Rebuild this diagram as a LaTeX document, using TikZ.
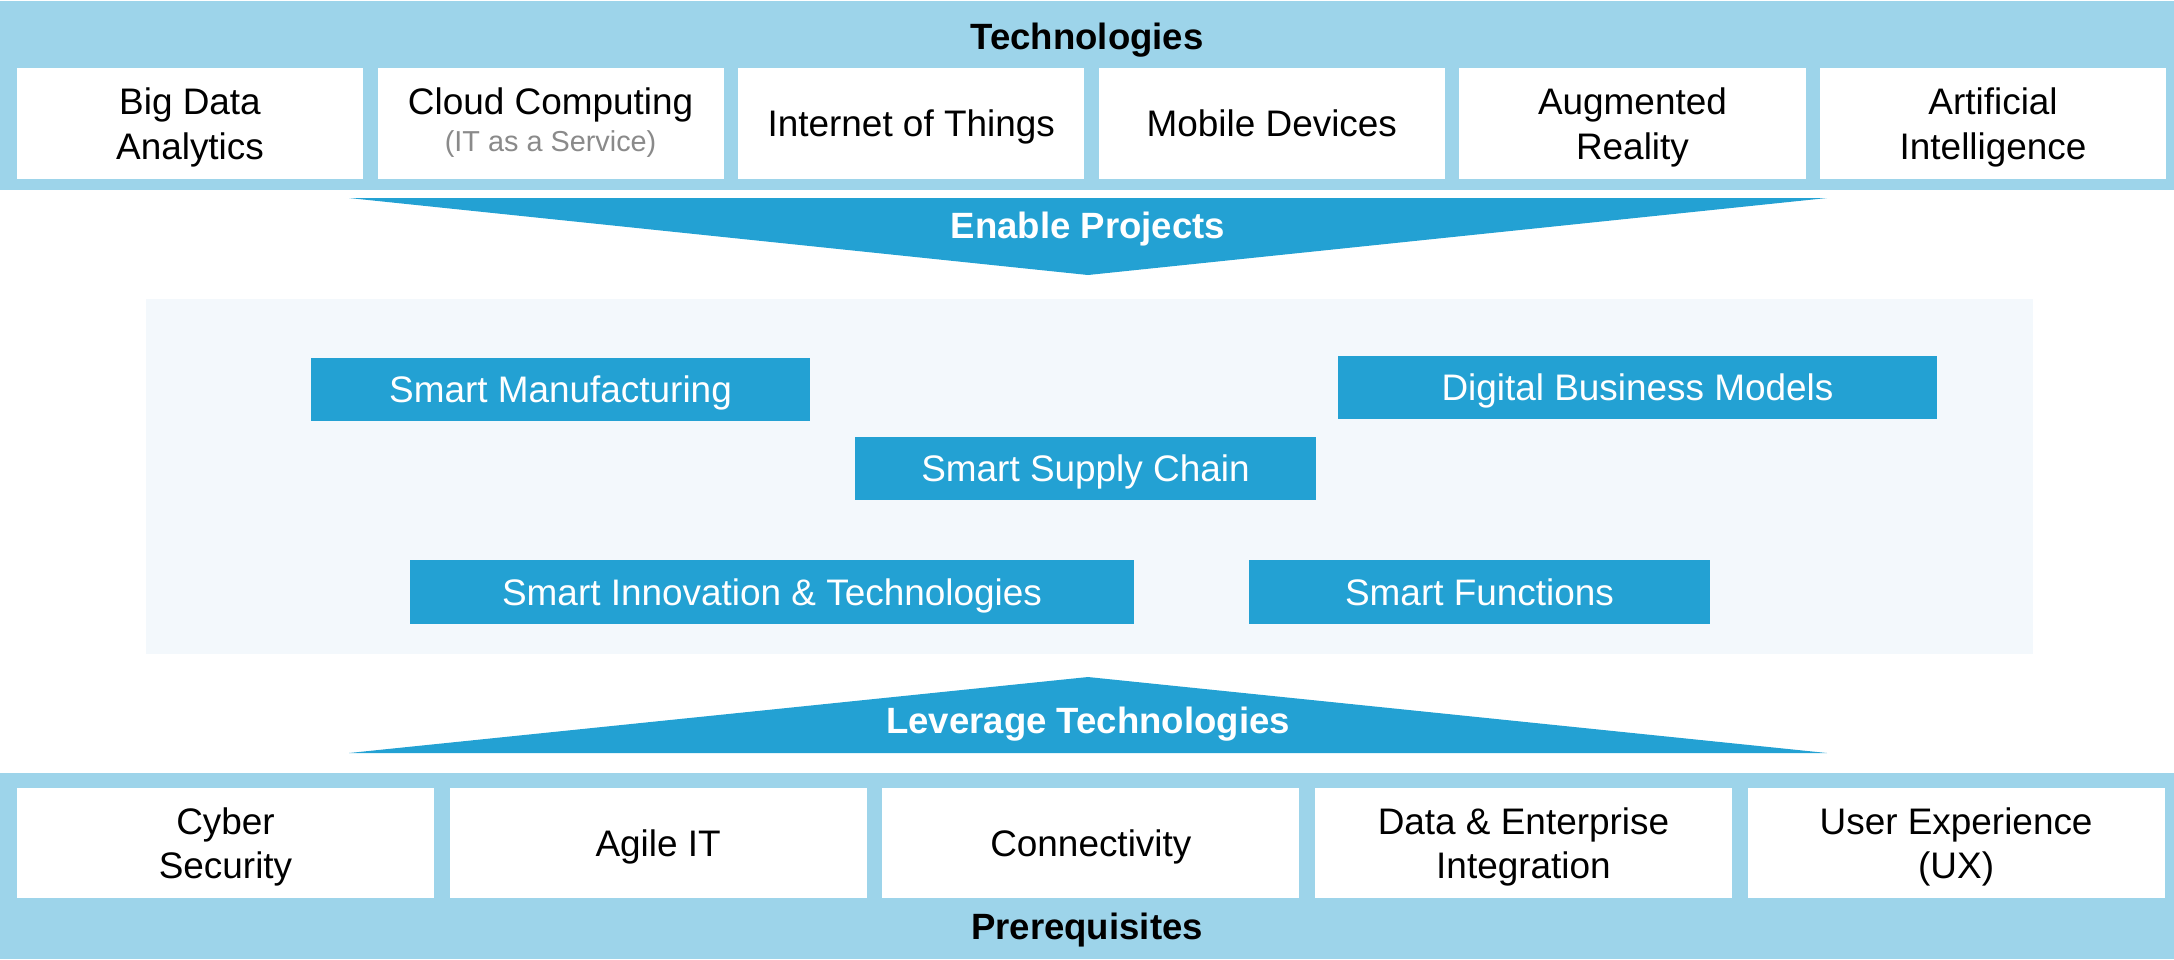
\documentclass[tikz,border=0pt]{standalone}
\usepackage{fontspec}
\setmainfont{Liberation Sans}
\usetikzlibrary{positioning}
\definecolor{bandblue}{HTML}{9DD4EA}
\definecolor{projblue}{HTML}{23A1D3}
\definecolor{panelbg}{HTML}{F3F8FC}
\definecolor{subgrey}{HTML}{8A8A8A}
\tikzset{
  techbox/.style={fill=white,minimum width=3.46cm,minimum height=1.11cm,
    inner sep=0pt,text depth=0pt,align=center,font=\fontsize{10.5}{12.6}\selectfont},
  prereqbox/.style={techbox,minimum width=4.17cm,minimum height=1.10cm},
  projbox/.style={fill=projblue,text=white,minimum height=0.63cm,
    inner sep=0pt,text depth=0pt,font=\fontsize{10.5}{12.6}\selectfont},
  bandtitle/.style={text depth=0pt,font=\bfseries\fontsize{10.4}{12.5}\selectfont},
  arrowtitle/.style={bandtitle,text=white},
}

\begin{document}
\begin{tikzpicture}[x=0.01cm,y=-0.01cm]
  \useasboundingbox (0,0) rectangle (2174,959);

  % bands and panel
  \fill[bandblue] (0,1) rectangle (2174,190);
  \fill[bandblue] (0,773) rectangle (2174,959);
  \fill[panelbg] (146,299) rectangle (2033,654);

  % technologies
  \node[bandtitle] (techtitle) at (1087,36) {Technologies};
  \node[techbox] (bigdata) at (190,123.5) {Big Data\\Analytics};
  \node[techbox,right=0.13cm of bigdata,text depth=2.4pt] (cloud)
    {Cloud Computing\\[-2pt]{\color{subgrey}\fontsize{8.2}{10}\selectfont(IT as a Service)}};
  \node[techbox,right=0.13cm of cloud] (iot) {Internet of Things};
  \node[techbox,right=0.13cm of iot] (mobile) {Mobile Devices};
  \node[techbox,right=0.13cm of mobile] (augreal) {Augmented\\Reality};
  \node[techbox,right=0.13cm of augreal] (artint) {Artificial\\Intelligence};

  % enable projects
  \fill[projblue] (349,198) -- (1827,198) -- (1088,275) -- cycle;
  \node[arrowtitle] (enable) at (1088,225) {Enable Projects};

  % projects
  \node[projbox,minimum width=4.99cm] (smartman) at (560.5,389) {Smart Manufacturing};
  \node[projbox,minimum width=5.99cm] (digbiz) at (1637.5,387.5) {Digital Business Models};
  \node[projbox,minimum width=4.61cm] (supply) at (1085.5,468) {Smart Supply Chain};
  \node[projbox,minimum width=7.24cm,minimum height=0.64cm] (innov) at (772,592)
    {Smart Innovation \& Technologies};
  \node[projbox,minimum width=4.61cm,minimum height=0.64cm] (functions) at (1479.5,592)
    {Smart Functions};

  % leverage technologies
  \fill[projblue] (349,753) -- (1827,753) -- (1088,677) -- cycle;
  \node[arrowtitle] (leverage) at (1088,720) {Leverage Technologies};

  % prerequisites
  \node[prereqbox] (cyber) at (225.5,843) {Cyber\\Security};
  \node[prereqbox,right=0.14cm of cyber] (agile) {Agile IT};
  \node[prereqbox,right=0.14cm of agile] (connect) {Connectivity};
  \node[prereqbox,right=0.14cm of connect] (dataent) {Data \& Enterprise\\Integration};
  \node[prereqbox,right=0.14cm of dataent] (ux) {User Experience\\(UX)};
  \node[bandtitle] (prereqtitle) at (1087,926) {Prerequisites};
\end{tikzpicture}
\end{document}
